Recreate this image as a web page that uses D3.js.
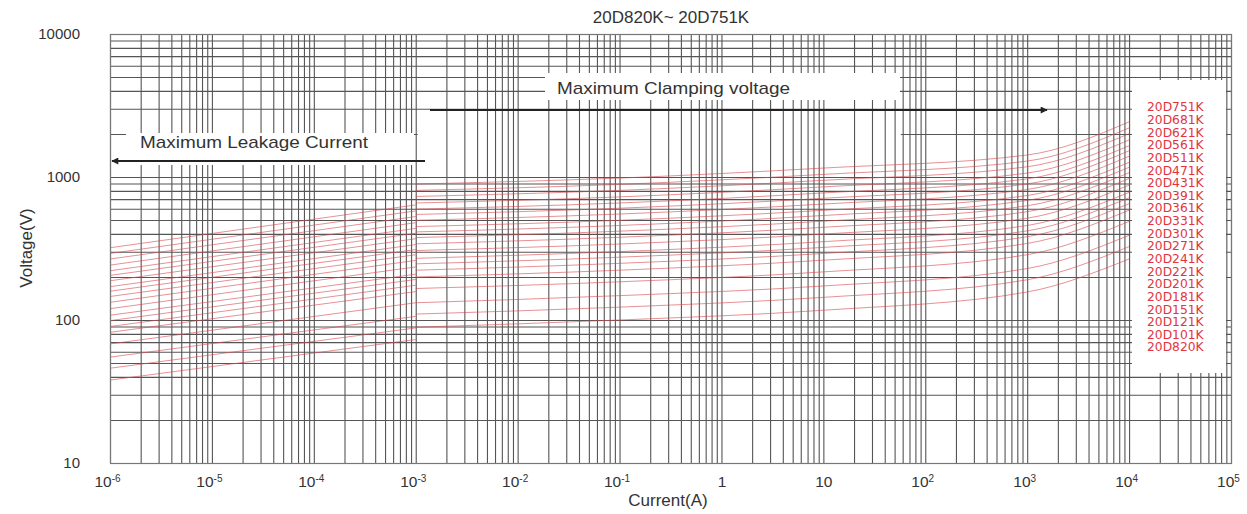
<!DOCTYPE html>
<html>
<head>
<meta charset="utf-8">
<script src="https://cdn.jsdelivr.net/npm/d3@7"></script>
<style>
  body { margin: 0; background: #fff; }
  svg { font-family: "Liberation Sans", Arial, sans-serif; }
  .grid line { stroke: #555; stroke-width: 1.1; }
  .grid .domain { display: none; }
</style>
</head>
<body>
<svg id="chart" width="1247" height="514"></svg>
<script>
// varistor models, top to bottom as in the legend
const models = [
  "20D751K", "20D681K", "20D621K", "20D561K", "20D511K",
  "20D471K", "20D431K", "20D391K", "20D361K", "20D331K",
  "20D301K", "20D271K", "20D241K", "20D221K", "20D201K",
  "20D181K", "20D151K", "20D121K", "20D101K", "20D820K"
];

// leakage region: current points (A) and voltage per model
const leakCurrent = [1e-6, 1e-3];
const leakVoltage = [
  [320, 638], [292, 579], [267, 529], [242, 479], [221, 437],
  [205, 404], [188, 370], [171, 337], [159, 311], [146, 286],
  [133, 261], [120, 235], [108, 209], [99, 192], [90, 175],
  [82, 158], [68, 132], [55, 106], [46, 88], [38, 73]
];

// clamping region: current points (A) and voltage per model
const clampCurrent = [1e-3, 1e-1, 1e1, 1e3, 1e4];
const clampVoltage = [
  [893, 983, 1155, 1425, 2430],
  [806, 888, 1043, 1292, 2204],
  [731, 806, 948, 1179, 2010],
  [658, 726, 853, 1065, 1816],
  [596, 658, 774, 970, 1655],
  [547, 605, 710, 894, 1525],
  [498, 551, 647, 818, 1396],
  [450, 498, 585, 742, 1267],
  [413, 458, 538, 686, 1169],
  [377, 418, 491, 629, 1072],
  [341, 379, 445, 572, 975],
  [306, 340, 399, 515, 878],
  [270, 301, 353, 458, 781],
  [247, 275, 322, 420, 716],
  [223, 249, 292, 382, 651],
  [200, 223, 262, 343, 586],
  [166, 185, 217, 286, 489],
  [132, 148, 173, 229, 391],
  [110, 123, 144, 191, 326],
  [89, 100, 117, 157, 267]
];

const yTickValues = [10, 100, 1000, 10000];
const xTickValues = [1e-6, 1e-5, 1e-4, 1e-3, 1e-2, 1e-1, 1, 10, 1e2, 1e3, 1e4, 1e5];

const margin = { top: 34, left: 110 };
const width = 1121;
const height = 429;

const svg = d3.select("#chart");
const chartBody = svg
  .append("g")
  .attr("transform", `translate(${margin.left},${margin.top})`);

const xScale = d3.scaleLog().domain([1e-6, 1e5]).range([0, width]);
const yScale = d3.scaleLog().domain([10, 10000]).range([height, 0]);

// 1..9 in every decade
const logGrid = (lo, hi) => {
  const t = [];
  for (let e = lo; e < hi; e++)
    for (let k = 1; k < 10; k++) t.push(k * Math.pow(10, e));
  t.push(Math.pow(10, hi));
  return t;
};

// horizontal grid
chartBody
  .append("g")
  .attr("class", "grid")
  .call(d3.axisLeft(yScale).tickValues(logGrid(1, 4)).tickSize(-width).tickFormat(""));

// gap in the horizontal grid under the clamping arrow
chartBody
  .append("rect")
  .attr("x", xScale(1e-3) + 2)
  .attr("y", 78)
  .attr("width", xScale(55) - xScale(1e-3))
  .attr("height", 64)
  .attr("fill", "#fff");

// vertical grid
chartBody
  .append("g")
  .attr("class", "grid")
  .attr("transform", `translate(0,${height})`)
  .call(d3.axisBottom(xScale).tickValues(logGrid(-6, 5)).tickSize(-height).tickFormat(""));

// label boxes
chartBody.append("rect").attr("x", 16).attr("y", 99).attr("width", 288).attr("height", 32).attr("fill", "#fff");
chartBody.append("rect").attr("x", 435).attr("y", 39).attr("width", 355).attr("height", 27).attr("fill", "#fff");

// curves
const valueLine = d3
  .line()
  .x((d) => xScale(d[0]))
  .y((d) => yScale(d[1]))
  .curve(d3.curveMonotoneX);

const curveStyle = (sel) =>
  sel.attr("fill", "none").attr("stroke", "#d8474e").attr("stroke-width", 1).attr("opacity", 0.6);

chartBody
  .selectAll(".leak")
  .data(leakVoltage)
  .enter()
  .append("path")
  .attr("class", "leak")
  .attr("d", (v) => valueLine(leakCurrent.map((c, i) => [c, v[i]])))
  .call(curveStyle);

chartBody
  .selectAll(".clamp")
  .data(clampVoltage)
  .enter()
  .append("path")
  .attr("class", "clamp")
  .attr("d", (v) => valueLine(clampCurrent.map((c, i) => [c, v[i]])))
  .call(curveStyle);

// arrows
svg
  .append("defs")
  .append("marker")
  .attr("id", "arrow")
  .attr("viewBox", "0 0 10 10")
  .attr("refX", 9)
  .attr("refY", 5)
  .attr("markerUnits", "userSpaceOnUse")
  .attr("markerWidth", 11)
  .attr("markerHeight", 7)
  .attr("orient", "auto")
  .append("path")
  .attr("d", "M0,0 L10,5 L0,10 z")
  .attr("fill", "#222");

svg.append("line").attr("x1", 425).attr("x2", 112).attr("y1", 161).attr("y2", 161)
  .attr("stroke", "#222").attr("stroke-width", 2).attr("marker-end", "url(#arrow)");
svg.append("line").attr("x1", 430).attr("x2", 1047).attr("y1", 110).attr("y2", 110)
  .attr("stroke", "#222").attr("stroke-width", 2).attr("marker-end", "url(#arrow)");

svg.append("text").attr("x", 140).attr("y", 148).attr("font-size", 17).attr("fill", "#333")
  .attr("textLength", 228).attr("lengthAdjust", "spacingAndGlyphs").text("Maximum Leakage Current");
svg.append("text").attr("x", 557).attr("y", 94).attr("font-size", 17).attr("fill", "#333")
  .attr("textLength", 233).attr("lengthAdjust", "spacingAndGlyphs").text("Maximum Clamping voltage");

// legend box on the right
chartBody.append("rect").attr("x", 1022).attr("y", 46).attr("width", 94).attr("height", 293).attr("fill", "#fff");

svg
  .selectAll(".model")
  .data(models)
  .enter()
  .append("text")
  .attr("class", "model")
  .attr("x", 1147)
  .attr("y", (d, i) => 107 + i * 12.63)
  .attr("dy", "0.36em")
  .attr("font-family", "DejaVu Sans, sans-serif")
  .attr("font-size", 12.3)
  .attr("fill", "#e2343d")
  .text((d) => d);

// frame
chartBody.append("rect").attr("x", 0.5).attr("y", 0.5).attr("width", width).attr("height", height)
  .attr("fill", "none").attr("stroke", "#777").attr("stroke-width", 1.2);

// y axis labels
const yAxis = chartBody
  .append("g")
  .call(d3.axisLeft(yScale).tickValues(yTickValues).tickSize(0).tickPadding(30).tickFormat(d3.format("d")));
yAxis.select(".domain").remove();
yAxis.selectAll("text").attr("font-size", 15).attr("fill", "#333").attr("font-family", "Liberation Sans, Arial, sans-serif");

// x axis labels with superscript exponents
const xAxis = chartBody
  .append("g")
  .attr("transform", `translate(0,${height})`)
  .call(d3.axisBottom(xScale).tickValues(xTickValues).tickSize(0).tickPadding(13).tickFormat(""));
xAxis.select(".domain").remove();
xAxis.selectAll(".tick text").each(function (d) {
  const e = Math.round(Math.log10(d));
  const t = d3.select(this).attr("font-size", 15.5).attr("fill", "#333")
    .attr("font-family", "Liberation Sans, Arial, sans-serif");
  if (e === 0) t.text("1");
  else if (e === 1) t.text("10");
  else {
    t.attr("dx", -3);
    t.append("tspan").text("10");
    t.append("tspan").attr("dy", "-0.55em").attr("font-size", 10).text(e);
  }
});

// titles
svg.append("text").attr("x", 671).attr("y", 23).attr("text-anchor", "middle")
  .attr("font-size", 17).attr("fill", "#333").text("20D820K~ 20D751K");
svg.append("text").attr("x", 668).attr("y", 506).attr("text-anchor", "middle")
  .attr("font-size", 17).attr("fill", "#333").text("Current(A)");
svg.append("text").attr("transform", "translate(32,248) rotate(-90)").attr("text-anchor", "middle")
  .attr("font-size", 17).attr("fill", "#333").text("Voltage(V)");
</script>
</body>
</html>
